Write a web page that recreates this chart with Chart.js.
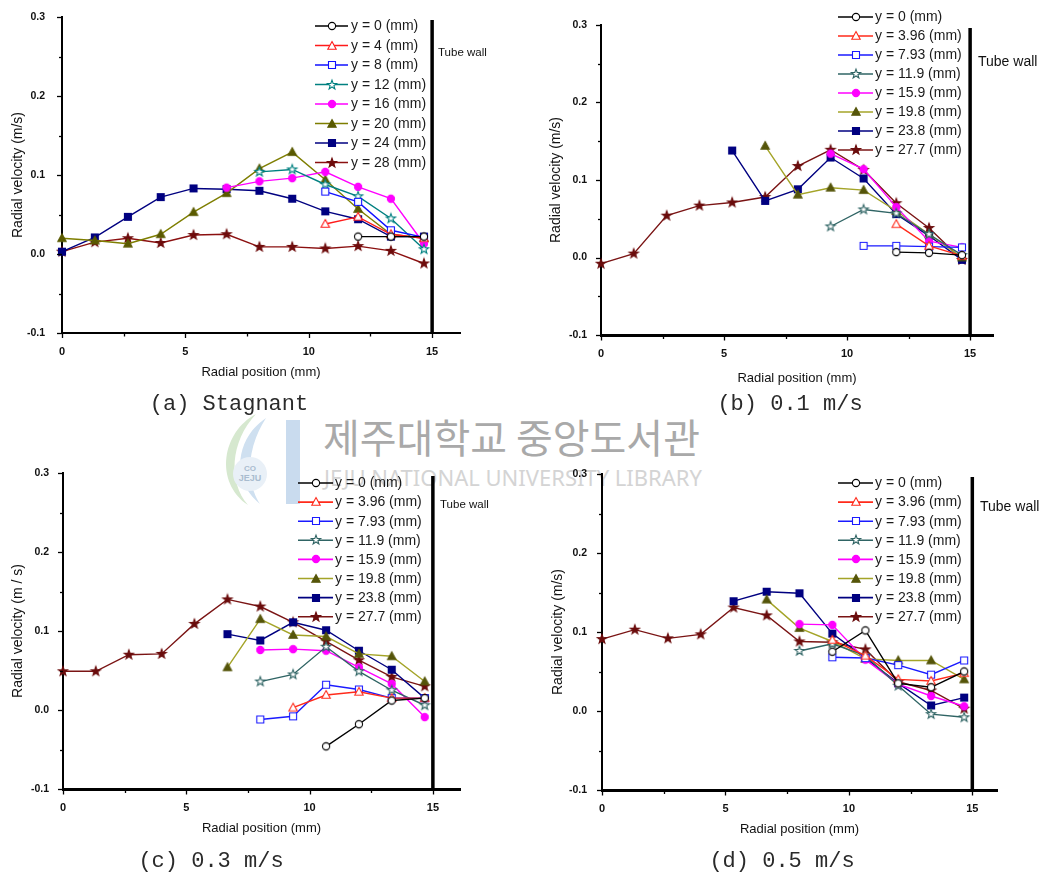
<!DOCTYPE html>
<html>
<head>
<meta charset="utf-8">
<script src="https://cdn.jsdelivr.net/npm/chart.js@4.4.1/dist/chart.umd.min.js"></script>
<style>
html,body{margin:0;padding:0;background:#fff;}
body{width:1048px;height:881px;position:relative;overflow:hidden;}
canvas.pc{position:absolute;z-index:2;}
.cap{position:absolute;font-family:"Liberation Mono","DejaVu Sans Mono",monospace;font-size:22px;line-height:22px;color:#2a2a2a;z-index:3;white-space:nowrap;transform:translateX(-50%);}
.wm1{position:absolute;left:323px;top:414px;font-family:"Noto Sans CJK KR","Noto Sans CJK SC",sans-serif;font-size:40px;line-height:44px;color:#a9a9a9;z-index:1;white-space:nowrap;}
.wm2{position:absolute;left:324px;top:465px;font-family:"Noto Sans","Open Sans",sans-serif;font-size:22px;line-height:24px;color:#d4d4d4;z-index:1;white-space:nowrap;}
.logo{position:absolute;left:210px;top:410px;z-index:1;}
</style>
</head>
<body>
<svg class="logo" width="95" height="98" viewBox="0 0 95 98">
  <path d="M46 4 C 12 22, 4 72, 38 95 C 18 72, 20 32, 46 4 Z" fill="#d6e8cf"/>
  <path d="M56 8 C 26 28, 20 70, 50 94 C 34 70, 38 36, 56 8 Z" fill="#cfe0f0"/>
  <rect x="76" y="10" width="14" height="84" fill="#c9dbee"/>
  <circle cx="40" cy="64" r="17" fill="#e9f0f7"/>
  <text x="40" y="61" font-size="8" text-anchor="middle" fill="#a9bccf" font-family="Liberation Sans" font-weight="bold">CO</text>
  <text x="40" y="71" font-size="9" text-anchor="middle" fill="#a9bccf" font-family="Liberation Sans" font-weight="bold">JEJU</text>
</svg>
<div class="wm1">제주대학교 중앙도서관</div>
<div class="wm2">JEJU NATIONAL UNIVERSITY LIBRARY</div>

<canvas class="pc" id="ca" width="508" height="395" style="left:0px;top:0px;width:508px;height:395px;"></canvas>
<canvas class="pc" id="cb" width="508" height="395" style="left:540px;top:0px;width:508px;height:395px;"></canvas>
<canvas class="pc" id="cc" width="508" height="395" style="left:0px;top:456px;width:508px;height:395px;"></canvas>
<canvas class="pc" id="cd" width="508" height="395" style="left:540px;top:456px;width:508px;height:395px;"></canvas>

<div class="cap" style="left:229px;top:394px;">(a) Stagnant</div>
<div class="cap" style="left:790px;top:394px;">(b) 0.1 m/s</div>
<div class="cap" style="left:211px;top:851px;">(c) 0.3 m/s</div>
<div class="cap" style="left:782px;top:851px;">(d) 0.5 m/s</div>

<script>
// ---------------- DATA ----------------
const _ = null;
const radialPos = [0, 1.33, 2.67, 4, 5.33, 6.67, 8, 9.33, 10.67, 12, 13.33, 14.67];
const xTickValues = [0, 5, 10, 15];
const xTickLabels = ['0', '5', '10', '15'];
const xMinorTicks = [2.5, 7.5, 12.5];
const yTickValues = [-0.1, 0, 0.1, 0.2, 0.3];
const yTickLabels = ['-0.1', '0.0', '0.1', '0.2', '0.3'];
const yMinorTicks = [-0.05, 0.05, 0.15, 0.25];
const tubeWallPos = 15;

const legendA = ['y = 0 (mm)', 'y = 4 (mm)', 'y = 8 (mm)', 'y = 12 (mm)', 'y = 16 (mm)', 'y = 20 (mm)', 'y = 24 (mm)', 'y = 28 (mm)'];
const legendBCD = ['y = 0 (mm)', 'y = 3.96 (mm)', 'y = 7.93 (mm)', 'y = 11.9 (mm)', 'y = 15.9 (mm)', 'y = 19.8 (mm)', 'y = 23.8 (mm)', 'y = 27.7 (mm)'];

// (a) Stagnant
const a_y0  = [_, _, _, _, _, _, _, _, _, 0.022, 0.022, 0.022];
const a_y4  = [_, _, _, _, _, _, _, _, 0.038, 0.047, 0.025, 0.020];
const a_y8  = [_, _, _, _, _, _, _, _, 0.079, 0.066, 0.030, 0.021];
const a_y12 = [_, _, _, _, _, _, 0.104, 0.107, 0.088, 0.073, 0.045, 0.006];
const a_y16 = [_, _, _, _, _, 0.084, 0.092, 0.096, 0.104, 0.085, 0.070, 0.013];
const a_y20 = [0.020, 0.017, 0.013, 0.025, 0.053, 0.077, 0.108, 0.129, 0.094, 0.057, 0.025, 0.020];
const a_y24 = [0.003, 0.021, 0.047, 0.072, 0.083, 0.082, 0.080, 0.070, 0.054, 0.044, 0.022, 0.022];
const a_y28 = [0.003, 0.015, 0.020, 0.014, 0.024, 0.025, 0.009, 0.009, 0.007, 0.010, 0.004, -0.012];

// (b) 0.1 m/s
const b_y0  = [_, _, _, _, _, _, _, _, _, 0.007, 0.006, 0.003];
const b_y4  = [_, _, _, _, _, _, _, _, _, 0.043, 0.015, 0.002];
const b_y8  = [_, _, _, _, _, _, _, _, 0.015, 0.015, 0.014, 0.013];
const b_y12 = [_, _, _, _, _, _, _, 0.040, 0.062, 0.057, 0.030, 0.003];
const b_y16 = [_, _, _, _, _, _, _, 0.134, 0.114, 0.065, 0.021, 0.013];
const b_y20 = [_, _, _, _, _, 0.144, 0.081, 0.090, 0.087, 0.060, 0.030, 0.000];
const b_y24 = [_, _, _, _, 0.138, 0.073, 0.088, 0.129, 0.102, 0.056, 0.028, -0.003];
const b_y28 = [-0.008, 0.005, 0.054, 0.067, 0.071, 0.078, 0.118, 0.139, 0.113, 0.070, 0.038, -0.003];

// (c) 0.3 m/s
const c_y0  = [_, _, _, _, _, _, _, _, -0.046, -0.018, 0.012, 0.015];
const c_y4  = [_, _, _, _, _, _, _, 0.003, 0.019, 0.023, 0.015, 0.015];
const c_y8  = [_, _, _, _, _, _, -0.012, -0.008, 0.032, 0.026, 0.015, 0.015];
const c_y12 = [_, _, _, _, _, _, 0.036, 0.045, 0.080, 0.049, 0.025, 0.006];
const c_y16 = [_, _, _, _, _, _, 0.076, 0.077, 0.075, 0.054, 0.033, -0.009];
const c_y20 = [_, _, _, _, _, 0.054, 0.115, 0.095, 0.093, 0.071, 0.068, 0.036];
const c_y24 = [_, _, _, _, _, 0.096, 0.088, 0.111, 0.101, 0.075, 0.051, 0.015];
const c_y28 = [0.049, 0.049, 0.070, 0.071, 0.109, 0.140, 0.131, 0.111, 0.087, 0.063, 0.042, 0.030];

// (d) 0.5 m/s
const d_y0  = [_, _, _, _, _, _, _, 0.075, 0.102, 0.035, 0.030, 0.050];
const d_y4  = [_, _, _, _, _, _, _, 0.090, 0.070, 0.040, 0.038, 0.048];
const d_y8  = [_, _, _, _, _, _, _, 0.068, 0.067, 0.058, 0.046, 0.064];
const d_y12 = [_, _, _, _, _, _, 0.076, 0.085, 0.070, 0.032, -0.004, -0.008];
const d_y16 = [_, _, _, _, _, _, 0.110, 0.109, 0.065, 0.034, 0.019, 0.006];
const d_y20 = [_, _, _, _, _, 0.141, 0.105, 0.088, 0.066, 0.064, 0.064, 0.040];
const d_y24 = [_, _, _, _, 0.139, 0.151, 0.149, 0.098, 0.067, 0.035, 0.007, 0.017];
const d_y28 = [0.091, 0.103, 0.092, 0.097, 0.131, 0.121, 0.088, 0.087, 0.078, 0.037, 0.026, 0.003];

// ---------------- STYLE ----------------
const FONT = '"Liberation Sans", Arial, sans-serif';
const shapes = ['circle', 'triangle', 'square', 'star', 'circle', 'triangle', 'square', 'star'];
const openMk = [true, true, true, true, false, false, false, false];
const paletteA = {
  line: ['#000000', '#ff1a1a', '#1010ff', '#008080', '#ff00ff', '#7e7e00', '#000080', '#8b1010'],
  mark: ['#000000', '#ff1a1a', '#1010ff', '#008080', '#ff00ff', '#5a5a00', '#000080', '#6e0c0c']
};
const paletteB = {
  line: ['#000000', '#ff2a1a', '#1a1aff', '#2f6464', '#ff00ff', '#a4a428', '#000080', '#7a1414'],
  mark: ['#000000', '#ff2a1a', '#1a1aff', '#2f6464', '#ff00ff', '#55550a', '#000080', '#6a0c0c']
};

function markerCanvas(shape, fill, stroke) {
  const S = 14;
  const c = document.createElement('canvas');
  c.width = S; c.height = S;
  const g = c.getContext('2d');
  g.translate(S / 2, S / 2);
  g.beginPath();
  if (shape === 'circle') {
    g.arc(0, 0, 3.6, 0, Math.PI * 2);
  } else if (shape === 'square') {
    g.rect(-3.5, -3.5, 7, 7);
  } else if (shape === 'triangle') {
    g.moveTo(0, -4.4); g.lineTo(4.2, 3.2); g.lineTo(-4.2, 3.2); g.closePath();
  } else {
    for (let k = 0; k < 10; k++) {
      const r = k % 2 ? 2.0 : 4.9;
      const a = -Math.PI / 2 + k * Math.PI / 5;
      const px = r * Math.cos(a), py = r * Math.sin(a);
      if (k === 0) g.moveTo(px, py); else g.lineTo(px, py);
    }
    g.closePath();
  }
  g.fillStyle = fill;
  g.fill();
  g.lineWidth = 1.1;
  g.strokeStyle = stroke;
  g.stroke();
  return c;
}

function markers(pal) {
  return shapes.map((s, i) => markerCanvas(s, openMk[i] ? '#ffffff' : pal.mark[i], pal.mark[i]));
}

const panelDeco = {
  id: 'panelDeco',
  afterDraw(chart, args, o) {
    const ctx = chart.ctx;
    const xs = chart.scales.x, ys = chart.scales.y;
    const ca = chart.chartArea;
    ctx.save();
    ctx.strokeStyle = '#000';
    ctx.lineWidth = 1.3;
    xTickValues.forEach(v => {
      const px = Math.round(xs.getPixelForValue(v)) + 0.5;
      ctx.beginPath(); ctx.moveTo(px, ca.bottom); ctx.lineTo(px, ca.bottom + o.axisW / 2 + 4); ctx.stroke();
    });
    xMinorTicks.forEach(v => {
      const px = Math.round(xs.getPixelForValue(v)) + 0.5;
      ctx.beginPath(); ctx.moveTo(px, ca.bottom); ctx.lineTo(px, ca.bottom + o.axisW / 2 + 2.5); ctx.stroke();
    });
    yTickValues.forEach(v => {
      const py = Math.round(ys.getPixelForValue(v)) + 0.5;
      ctx.beginPath(); ctx.moveTo(ca.left, py); ctx.lineTo(ca.left - 5, py); ctx.stroke();
    });
    yMinorTicks.forEach(v => {
      const py = Math.round(ys.getPixelForValue(v)) + 0.5;
      ctx.beginPath(); ctx.moveTo(ca.left, py); ctx.lineTo(ca.left - 3, py); ctx.stroke();
    });
    const wx = xs.getPixelForValue(tubeWallPos);
    ctx.lineWidth = 3.5;
    ctx.beginPath(); ctx.moveTo(wx, o.wallTop); ctx.lineTo(wx, ca.bottom); ctx.stroke();
    ctx.fillStyle = '#111';
    ctx.font = o.wallFont + 'px ' + FONT;
    ctx.textAlign = 'left';
    ctx.textBaseline = 'middle';
    ctx.fillText('Tube wall', o.wallTextX, o.wallTextY);
    const L = o.legend;
    ctx.font = L.font + 'px ' + FONT;
    o.labels.forEach((lab, i) => {
      const y = L.y0 + i * L.dy;
      ctx.strokeStyle = o.palette.line[i];
      ctx.lineWidth = 1.6;
      ctx.beginPath(); ctx.moveTo(L.x1, y); ctx.lineTo(L.x2, y); ctx.stroke();
      const m = o.marks[i];
      ctx.drawImage(m, Math.round((L.x1 + L.x2) / 2 - m.width / 2), Math.round(y - m.height / 2));
      ctx.fillStyle = '#1a1a1a';
      ctx.fillText(lab, L.tx, y + 0.5);
    });
    ctx.restore();
  }
};

const panels = [
  { id: 'ca', series: [a_y0, a_y4, a_y8, a_y12, a_y16, a_y20, a_y24, a_y28], labels: legendA, palette: paletteA,
    xMax: 16.13, yW: 62, padTop: 17, padRight: 48, xH: 62, axisW: 2,
    yTitle: 'Radial velocity (m/s)', yTitlePad: 10, yTickPad: 9, xTitlePad: 15, xTickPad: 4,
    wallTop: 20, wallTextX: 438, wallTextY: 53, wallFont: 11.5,
    legend: { x1: 315, x2: 348, tx: 351, y0: 26, dy: 19.5, font: 14 } },
  { id: 'cb', series: [b_y0, b_y4, b_y8, b_y12, b_y16, b_y20, b_y24, b_y28], labels: legendBCD, palette: paletteB,
    xMax: 15.93, yW: 61, padTop: 25, padRight: 55, xH: 60, axisW: 3,
    yTitle: 'Radial velocity (m/s)', yTitlePad: 8, yTickPad: 6, xTitlePad: 9, xTickPad: 4,
    wallTop: 28, wallTextX: 438, wallTextY: 62, wallFont: 14,
    legend: { x1: 298, x2: 333, tx: 335, y0: 17, dy: 19, font: 14 } },
  { id: 'cc', series: [c_y0, c_y4, c_y8, c_y12, c_y16, c_y20, c_y24, c_y28], labels: legendBCD, palette: paletteB,
    xMax: 16.1, yW: 63, padTop: 17, padRight: 48, xH: 62, axisW: 3,
    yTitle: 'Radial velocity (m / s)', yTitlePad: 10, yTickPad: 6, xTitlePad: 15, xTickPad: 4,
    wallTop: 20, wallTextX: 440, wallTextY: 49, wallFont: 11.5,
    legend: { x1: 298, x2: 333, tx: 335, y0: 27, dy: 19.1, font: 14 } },
  { id: 'cd', series: [d_y0, d_y4, d_y8, d_y12, d_y16, d_y20, d_y24, d_y28], labels: legendBCD, palette: paletteB,
    xMax: 16.0, yW: 62, padTop: 18, padRight: 51, xH: 61, axisW: 3,
    yTitle: 'Radial velocity (m/s)', yTitlePad: 10, yTickPad: 7, xTitlePad: 14, xTickPad: 4,
    wallTop: 21, wallTextX: 440, wallTextY: 51, wallFont: 14,
    legend: { x1: 298, x2: 333, tx: 335, y0: 27, dy: 19.1, font: 14 } }
];

panels.forEach(p => {
  const marks = markers(p.palette);
  const datasets = p.series.map((arr, i) => ({
    label: p.labels[i],
    data: radialPos.map((x, j) => ({ x: x, y: arr[j] })).filter(pt => pt.y !== null),
    showLine: true,
    borderColor: p.palette.line[i],
    backgroundColor: p.palette.line[i],
    borderWidth: 1.4,
    pointStyle: marks[i],
    pointRadius: 4,
    pointHoverRadius: 4,
    tension: 0,
    fill: false,
    clip: false
  }));
  new Chart(document.getElementById(p.id), {
    type: 'scatter',
    data: { datasets: datasets },
    options: {
      responsive: false,
      animation: false,
      devicePixelRatio: 1,
      layout: { padding: { left: 0, top: p.padTop, right: p.padRight, bottom: 0 } },
      plugins: {
        legend: { display: false },
        tooltip: { enabled: false },
        title: { display: false },
        panelDeco: Object.assign({}, p, { marks: marks })
      },
      scales: {
        x: {
          type: 'linear', min: 0, max: p.xMax,
          afterBuildTicks: s => { s.ticks = xTickValues.map(v => ({ value: v })); },
          afterFit: s => { s.height = p.xH; },
          grid: { display: false },
          border: { display: true, color: '#000', width: p.axisW },
          ticks: { color: '#111', padding: p.xTickPad, maxRotation: 0, autoSkip: false,
                   font: { family: FONT, size: 11, weight: 'bold' },
                   callback: (v, i) => xTickLabels[i] },
          title: { display: true, text: 'Radial position (mm)', color: '#111',
                   font: { family: FONT, size: 13 }, padding: { top: 0, bottom: p.xTitlePad } }
        },
        y: {
          type: 'linear', min: -0.1, max: 0.3,
          afterBuildTicks: s => { s.ticks = yTickValues.map(v => ({ value: v })); },
          afterFit: s => { s.width = p.yW; },
          grid: { display: false },
          border: { display: true, color: '#000', width: 2 },
          ticks: { color: '#111', padding: p.yTickPad, autoSkip: false,
                   font: { family: FONT, size: 10.5, weight: 'bold' },
                   callback: (v, i) => yTickLabels[i] },
          title: { display: true, text: p.yTitle, color: '#111',
                   font: { family: FONT, size: 14 }, padding: { top: p.yTitlePad, bottom: 0 } }
        }
      }
    },
    plugins: [panelDeco]
  });
});
</script>
</body>
</html>
